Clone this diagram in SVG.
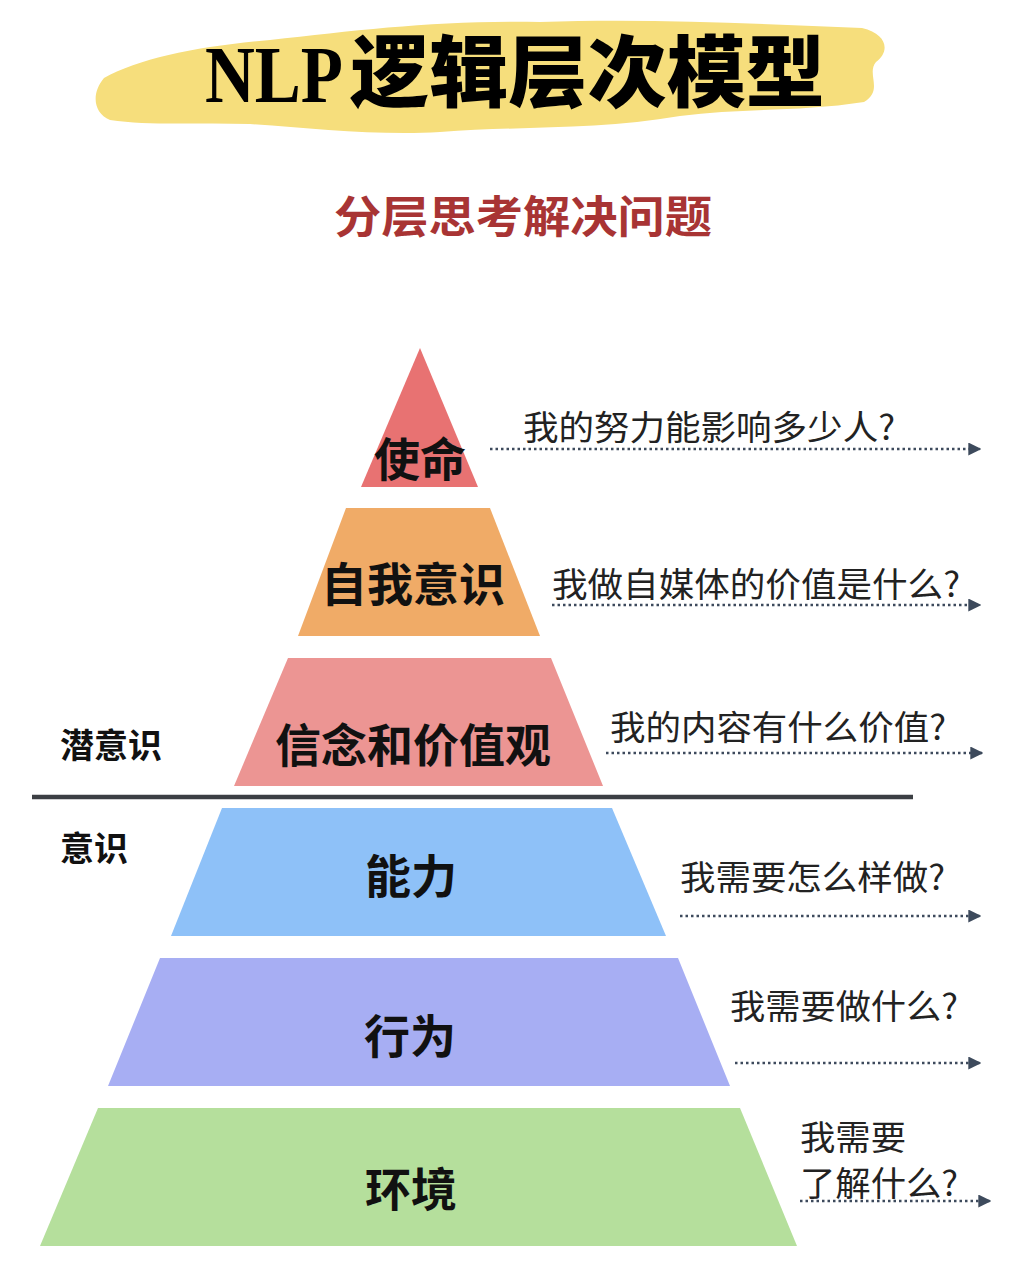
<svg xmlns="http://www.w3.org/2000/svg" width="1013" height="1280" viewBox="0 0 1013 1280">
<style>
.lvl{font-family:"Noto Sans CJK SC","Noto Sans",sans-serif;font-weight:700;font-size:46px;fill:#111;text-anchor:middle}
.q{font-family:"Noto Sans CJK SC","Noto Sans",sans-serif;font-weight:400;font-size:34px;fill:#222}
.side{font-family:"Noto Sans CJK SC","Noto Sans",sans-serif;font-weight:700;font-size:34px;fill:#111}
.arr{stroke:#3d4a5c;stroke-width:2.6;stroke-dasharray:2.5 3;fill:none}
</style>
<defs>
<marker id="ah" viewBox="0 0 10 10" refX="9" refY="5" markerWidth="5" markerHeight="5" orient="auto" markerUnits="strokeWidth">
<path d="M0,0 L10,5 L0,10 Z" fill="#3d4a5c"/>
</marker>
</defs>
<rect width="1013" height="1280" fill="#fff"/>
<g id="title">
<path d="M104,78 C140,58 200,46 270,40 C360,30 440,20 540,22 C650,18 760,24 862,28 C888,34 890,52 876,62 C866,74 884,90 864,102 C800,112 740,108 680,116 C600,130 520,126 440,132 C380,136 310,128 250,124 C200,122 150,126 110,120 C92,112 92,92 104,78 Z" fill="#F6DE7C"/>
<text x="205" y="102" font-family="Liberation Serif,serif" font-weight="700" font-size="80" textLength="138" lengthAdjust="spacingAndGlyphs" fill="#000">NLP</text>
<text x="350" y="101" font-family="Noto Sans CJK SC,sans-serif" font-weight="900" font-size="78" textLength="475" lengthAdjust="spacingAndGlyphs" fill="#000">逻辑层次模型</text>
</g>
<g id="subtitle">
<text x="523" y="233" font-family="Noto Sans CJK SC,sans-serif" font-weight="700" font-size="44" text-anchor="middle" fill="#A83434" textLength="378" lengthAdjust="spacingAndGlyphs">分层思考解决问题</text>
</g>
<g id="side-labels">
<text class="side" x="60" y="758">潜意识</text>
<text class="side" x="60" y="861">意识</text>
<line x1="32" y1="797" x2="913" y2="797" stroke="#3c3f44" stroke-width="4.5"/>
</g>
<g id="mission">
<polygon points="420,348 478,487 361,487" fill="#E87272"/>
<text class="lvl" x="420" y="476">使命</text>
</g>
<g id="identity">
<polygon points="346,508 490,508 540,636 298,636" fill="#F0AB67"/>
<text class="lvl" x="413" y="601">自我意识</text>
</g>
<g id="beliefs">
<polygon points="288,658 551,658 603,786 234,786" fill="#EC9593"/>
<text class="lvl" x="413" y="762">信念和价值观</text>
</g>
<g id="capability">
<polygon points="222,808 612,808 666,936 171,936" fill="#8EC1F8"/>
<text class="lvl" x="411" y="893">能力</text>
</g>
<g id="behavior">
<polygon points="160,958 678,958 730,1086 108,1086" fill="#A7AEF3"/>
<text class="lvl" x="410" y="1053">行为</text>
</g>
<g id="environment">
<polygon points="98,1108 740,1108 797,1246 40,1246" fill="#B5DF9C"/>
<text class="lvl" x="411" y="1206">环境</text>
</g>
<g id="questions">
<text class="q" x="523" y="440" textLength="372" lengthAdjust="spacingAndGlyphs">我的努力能影响多少人?</text>
<text class="q" x="552" y="597" textLength="408" lengthAdjust="spacingAndGlyphs">我做自媒体的价值是什么?</text>
<text class="q" x="610" y="740" textLength="336" lengthAdjust="spacingAndGlyphs">我的内容有什么价值?</text>
<text class="q" x="680" y="890" textLength="265" lengthAdjust="spacingAndGlyphs">我需要怎么样做?</text>
<text class="q" x="730" y="1019" textLength="228" lengthAdjust="spacingAndGlyphs">我需要做什么?</text>
<text class="q" x="800" y="1150" textLength="106" lengthAdjust="spacingAndGlyphs">我需要</text>
<text class="q" x="800" y="1196" textLength="158" lengthAdjust="spacingAndGlyphs">了解什么?</text>
</g>
<g id="connectors">
<line class="arr" x1="490" y1="449" x2="980" y2="449" marker-end="url(#ah)"/>
<line class="arr" x1="552" y1="605" x2="980" y2="605" marker-end="url(#ah)"/>
<line class="arr" x1="606" y1="753" x2="982" y2="753" marker-end="url(#ah)"/>
<line class="arr" x1="680" y1="916" x2="980" y2="916" marker-end="url(#ah)"/>
<line class="arr" x1="735" y1="1063" x2="980" y2="1063" marker-end="url(#ah)"/>
<line class="arr" x1="800" y1="1201" x2="990" y2="1201" marker-end="url(#ah)"/>
</g>
</svg>
